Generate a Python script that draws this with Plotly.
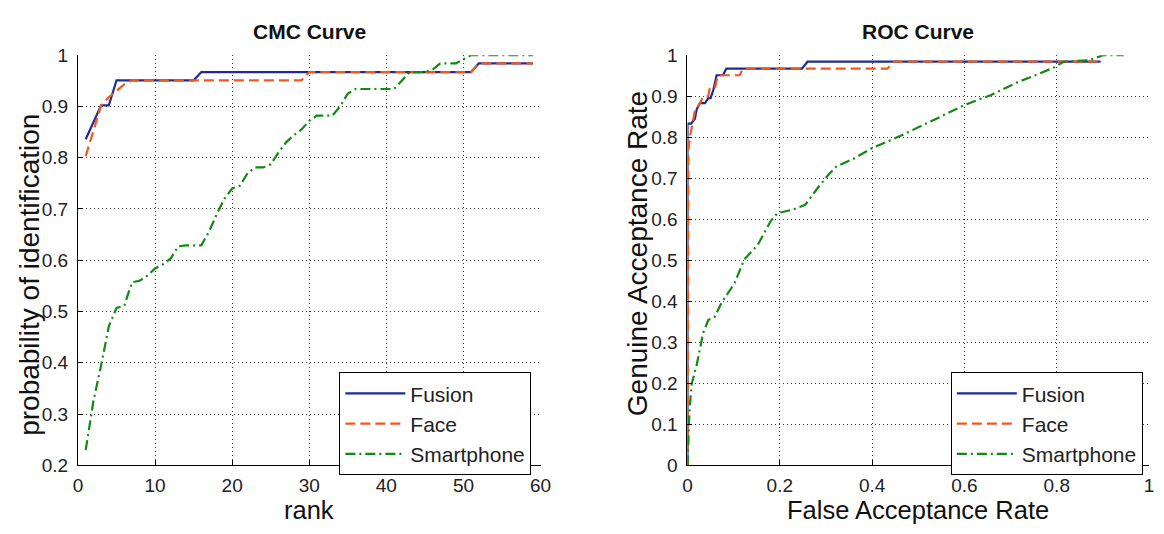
import plotly.graph_objects as go

# ---------------- CMC data ----------------
cmc_rank = list(range(1, 60))
cmc_fusion = ([0.836, 0.869, 0.902, 0.902] + [0.951] * 11 + [0.967] * 36 + [0.984] * 8)
cmc_face = ([0.803, 0.852, 0.902, 0.918, 0.930, 0.943] + [0.951] * 23 + [0.967] * 22 + [0.984] * 8)
cmc_smartphone = [0.230, 0.325, 0.395, 0.471, 0.507, 0.511, 0.557, 0.560, 0.570, 0.584,
                  0.592, 0.603, 0.627, 0.629, 0.629, 0.629, 0.656, 0.690, 0.720, 0.740,
                  0.745, 0.770, 0.781, 0.781, 0.787, 0.810, 0.830, 0.844, 0.855, 0.872,
                  0.882, 0.882, 0.882, 0.900, 0.925, 0.934, 0.934, 0.934, 0.934, 0.934,
                  0.934, 0.950, 0.967, 0.967, 0.967, 0.972, 0.984, 0.984, 0.984, 0.992,
                  1.0, 1.0, 1.0, 1.0, 1.0, 1.0, 1.0, 1.0, 1.0]

# ---------------- ROC data ----------------
roc_far_fusion = [0, 0, 0.008, 0.016, 0.020, 0.027, 0.038, 0.045, 0.050, 0.056, 0.063,
                  0.077, 0.084, 0.248, 0.260, 0.895]
roc_gar_fusion = [0, 0.833, 0.833, 0.845, 0.868, 0.883, 0.883, 0.895, 0.895, 0.915, 0.951,
                  0.951, 0.967, 0.967, 0.984, 0.984]
roc_far_face = [0, 0.002, 0.006, 0.013, 0.016, 0.027, 0.034, 0.045, 0.048, 0.059, 0.066,
                0.113, 0.120, 0.433, 0.448, 0.895]
roc_gar_face = [0, 0.770, 0.805, 0.845, 0.864, 0.883, 0.899, 0.900, 0.918, 0.918, 0.951,
                0.951, 0.967, 0.967, 0.984, 0.984]
roc_far_smartphone = [0, 0.002, 0.004, 0.009, 0.020, 0.027, 0.034, 0.045, 0.059, 0.074,
                      0.102, 0.123, 0.152, 0.180, 0.195, 0.227, 0.255, 0.280, 0.302, 0.323,
                      0.359, 0.401, 0.459, 0.537, 0.601, 0.658, 0.715, 0.758, 0.794, 0.815,
                      0.872, 0.900, 0.945]
roc_gar_smartphone = [0, 0.066, 0.128, 0.198, 0.245, 0.284, 0.323, 0.354, 0.362, 0.397,
                      0.444, 0.502, 0.537, 0.595, 0.615, 0.623, 0.635, 0.673, 0.704, 0.729,
                      0.747, 0.774, 0.802, 0.844, 0.879, 0.903, 0.934, 0.953, 0.970, 0.984,
                      0.988, 1.0, 1.0]

series_names = ["Fusion", "Face", "Smartphone"]
cmc_xticks = [0, 10, 20, 30, 40, 50, 60]
cmc_yticks = [0.2, 0.3, 0.4, 0.5, 0.6, 0.7, 0.8, 0.9, 1]
roc_xticks = [0, 0.2, 0.4, 0.6, 0.8, 1]
roc_yticks = [0, 0.1, 0.2, 0.3, 0.4, 0.5, 0.6, 0.7, 0.8, 0.9, 1]

COL = {"Fusion": "#1b2d94", "Face": "#f0581f", "Smartphone": "#128a12"}
DASH = {"Fusion": "solid", "Face": "10px,5px", "Smartphone": "10px,4px,2px,4px"}
FONT = "Liberation Sans, Arial, sans-serif"

W, H = 1164, 534
fig = go.Figure()

cmc_vals = {"Fusion": cmc_fusion, "Face": cmc_face, "Smartphone": cmc_smartphone}
for n in series_names:
    fig.add_trace(go.Scatter(x=cmc_rank, y=cmc_vals[n], mode="lines", name=n,
                             line=dict(color=COL[n], width=2.2, dash=DASH[n]),
                             xaxis="x", yaxis="y", legend="legend"))

roc_vals = {"Fusion": (roc_far_fusion, roc_gar_fusion),
            "Face": (roc_far_face, roc_gar_face),
            "Smartphone": (roc_far_smartphone, roc_gar_smartphone)}
for n in series_names:
    xs, ys = roc_vals[n]
    fig.add_trace(go.Scatter(x=xs, y=ys, mode="lines", name=n,
                             line=dict(color=COL[n], width=2.2, dash=DASH[n]),
                             xaxis="x2", yaxis="y2", legend="legend2"))

y0, y1 = 1 - 474 / H, 1 - 47 / H
axis_common = dict(showline=True, linecolor="black", linewidth=1, mirror=False,
                   ticks="inside", ticklen=5, tickcolor="black",
                   showgrid=True, gridcolor="#3a3a3a", gridwidth=1, griddash="1px,3px",
                   zeroline=False, tickfont=dict(family=FONT, size=19, color="#222"))
xstyle = dict(axis_common, ticklabelstandoff=3)
ystyle = dict(axis_common, ticklabelstandoff=5)

legend_style = dict(xanchor="left", yanchor="top",
                    bgcolor="white", bordercolor="black", borderwidth=1,
                    font=dict(family=FONT, size=21, color="#222"), itemwidth=60,
                    tracegroupgap=0)

fig.update_layout(
    width=W, height=H,
    margin=dict(l=0, r=0, t=0, b=0),
    paper_bgcolor="white", plot_bgcolor="white",
    showlegend=True,
    xaxis=dict(domain=[74 / W, 543 / W], range=[0, 60], tickvals=cmc_xticks,
               anchor="y", **xstyle),
    yaxis=dict(domain=[y0, y1], range=[0.2, 1], tickvals=cmc_yticks,
               anchor="x", **ystyle),
    xaxis2=dict(domain=[692 / W, 1160 / W], range=[0, 1], tickvals=roc_xticks,
                anchor="y2", **xstyle),
    yaxis2=dict(domain=[y0, y1], range=[0, 1], tickvals=roc_yticks,
                anchor="x2", **ystyle),
    legend=dict(x=339 / W, y=1 - 377 / H, **legend_style),
    legend2=dict(x=959 / W, y=1 - 377 / H, **legend_style),
)

ann = [
    dict(text="<b>CMC Curve</b>", x=308.5 / W, y=1 - 22 / H, size=21, angle=0),
    dict(text="<b>ROC Curve</b>", x=926 / W, y=1 - 22 / H, size=21, angle=0),
    dict(text="rank", x=308.5 / W, y=1 - 520 / H, size=25.5, angle=0),
    dict(text="False Acceptance Rate", x=926 / W, y=1 - 520 / H, size=25.5, angle=0),
    dict(text="probability of identification", x=24 / W, y=1 - 276 / H, size=28, angle=-90),
    dict(text="Genuine Acceptance Rate", x=641 / W, y=1 - 254 / H, size=28, angle=-90),
]
for a in ann:
    fig.add_annotation(text=a["text"], x=a["x"], y=a["y"], xref="paper", yref="paper",
                       xanchor="center", yanchor="middle", showarrow=False,
                       textangle=a["angle"],
                       font=dict(family=FONT, size=a["size"], color="#111"))

fig.write_html("out.html", config={"displayModeBar": False},
               post_script="document.body.style.margin='0';document.body.style.overflow='hidden';")
